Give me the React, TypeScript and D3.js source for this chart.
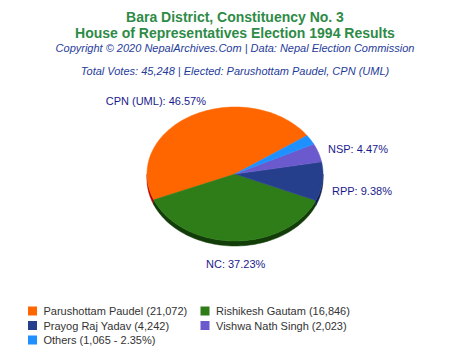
import React from "react";
import * as d3 from "d3";

const parties = ["CPN (UML)", "NC", "RPP", "NSP", "Others"];
const percents = [46.57, 37.23, 9.38, 4.47, 2.35];
const colors = ["#ff6600", "#2e7d18", "#263f8c", "#6a5acd", "#1e90ff"];
const sideColors = ["#b30000", "#123d08", "#101f50", "#3a2f80", "#0d4f99"];
const showLabel = [true, true, true, true, false];
const legendNames = [
  "Parushottam Paudel (21,072)",
  "Rishikesh Gautam (16,846)",
  "Prayog Raj Yadav (4,242)",
  "Vishwa Nath Singh (2,023)",
  "Others (1,065 - 2.35%)",
];
const legendColors = ["#ff6600", "#2e7d18", "#263f8c", "#6a5acd", "#1e90ff"];

const W = 470, H = 352;
const cx = 235, cy = 174, rx = 88, ry = 67, depth = 5;
const startMath = 35; // degrees, math convention

const rad = (d: number) => (d * Math.PI) / 180;
const pt = (thDeg: number, dy = 0): [number, number] => [
  cx + rx * Math.cos(rad(thDeg)),
  cy - ry * Math.sin(rad(thDeg)) + dy,
];

export default function App() {
  const pie = d3
    .pie<number>()
    .sort(null)
    .value((d) => d)
    .startAngle(rad(90 - startMath))
    .endAngle(rad(90 - startMath - 360));
  const arcs = pie(percents);
  const line = d3.line();

  const slices = arcs.map((a, i) => {
    const t0 = 90 - (a.startAngle * 180) / Math.PI;
    const t1 = 90 - (a.endAngle * 180) / Math.PI;
    return { i, t0, t1, mid: (t0 + t1) / 2 };
  });

  const arcPts = (a: number, b: number, dy = 0) => {
    const n = Math.max(2, Math.ceil(Math.abs(b - a) / 2));
    return d3.range(n + 1).map((k) => pt(a + ((b - a) * k) / n, dy));
  };

  const sides: JSX.Element[] = [];
  slices.forEach((s) => {
    [[180, 360], [540, 720]].forEach(([lo, hi], j) => {
      const a = Math.max(s.t0, lo);
      const b = Math.min(s.t1, hi);
      if (b > a) {
        const top = arcPts(a, b);
        const bot = arcPts(b, a, depth);
        sides.push(
          <path
            key={`side-${s.i}-${j}`}
            d={line([...top, ...bot])! + "Z"}
            fill={sideColors[s.i]}
            stroke={sideColors[s.i]}
            strokeWidth={0.5}
          />
        );
      }
    });
  });

  const labelPos: Record<number, { x: number; y: number; anchor: string }> = {
    0: { x: 206, y: 105, anchor: "end" },
    1: { x: 206, y: 268, anchor: "start" },
    2: { x: 332, y: 195, anchor: "start" },
    3: { x: 328, y: 153, anchor: "start" },
  };

  return (
    <svg width={W} height={H} style={{ position: "absolute", left: 0, top: 0 }} fontFamily="'Liberation Sans', Arial, sans-serif">
      <rect width={W} height={H} fill="#ffffff" />
      <text x={235} y={22} textAnchor="middle" fontSize={14} fontWeight="bold" fill="#2e8b47">
        Bara District, Constituency No. 3
      </text>
      <text x={235} y={37.5} textAnchor="middle" fontSize={14} fontWeight="bold" fill="#2e8b47">
        House of Representatives Election 1994 Results
      </text>
      <text x={235} y={52} textAnchor="middle" fontSize={11} fontStyle="italic" fill="#1f3c99">
        Copyright © 2020 NepalArchives.Com | Data: Nepal Election Commission
      </text>
      <text x={235} y={75} textAnchor="middle" fontSize={11} fontStyle="italic" fill="#1f3c99">
        Total Votes: 45,248 | Elected: Parushottam Paudel, CPN (UML)
      </text>

      {sides}
      {slices.map((s) => (
        <path
          key={`top-${s.i}`}
          d={line([[cx, cy], ...arcPts(s.t0, s.t1)])! + "Z"}
          fill={colors[s.i]}
          stroke={colors[s.i]}
          strokeWidth={0.5}
          strokeLinejoin="round"
        />
      ))}

      {slices.map((s) =>
        showLabel[s.i] ? (
          <text
            key={`lab-${s.i}`}
            x={labelPos[s.i].x}
            y={labelPos[s.i].y}
            textAnchor={labelPos[s.i].anchor}
            fontSize={11}
            fill="#1a1a8c"
          >
            {`${parties[s.i]}: ${percents[s.i].toFixed(2)}%`}
          </text>
        ) : null
      )}

      {legendNames.map((n, i) => {
        const col = i % 2;
        const row = Math.floor(i / 2);
        const x = col === 0 ? 28 : 200.5;
        const y = 306.5 + row * 14.5;
        return (
          <g key={`leg-${i}`}>
            <rect x={x} y={y} width={9} height={9} fill={legendColors[i]} />
            <text x={x + 15.5} y={y + 8.5} fontSize={11} fill="#333">
              {n}
            </text>
          </g>
        );
      })}
    </svg>
  );
}
